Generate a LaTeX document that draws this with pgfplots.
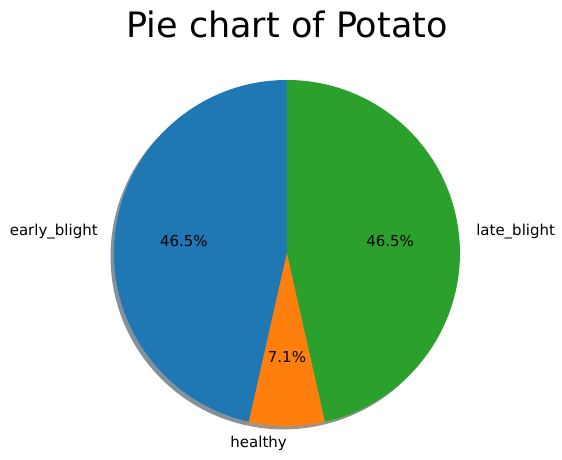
\documentclass[border=0pt]{standalone}
\usepackage{pgfplots}
\pgfplotsset{compat=1.18}
\usepackage{fontspec}
\setmainfont{DejaVu Sans}
\definecolor{tabblue}{HTML}{1F77B4}
\definecolor{taborange}{HTML}{FF7F0E}
\definecolor{tabgreen}{HTML}{2CA02C}
\begin{document}
\begin{tikzpicture}
% image counts per class
\pgfmathsetmacro{\ca}{1000}% early_blight
\pgfmathsetmacro{\cb}{152}% healthy
\pgfmathsetmacro{\cc}{1000}% late_blight
\pgfmathsetmacro{\tot}{\ca+\cb+\cc}
\pgfmathsetmacro{\fA}{\ca/\tot}
\pgfmathsetmacro{\fB}{\cb/\tot}
\pgfmathsetmacro{\fC}{\cc/\tot}
\pgfmathsetmacro{\aA}{90}
\pgfmathsetmacro{\aB}{90+360*\fA}
\pgfmathsetmacro{\aC}{\aB+360*\fB}
\pgfmathsetmacro{\aD}{450}
\pgfmathsetmacro{\mA}{(\aA+\aB)/2}
\pgfmathsetmacro{\mB}{(\aB+\aC)/2}
\pgfmathsetmacro{\mC}{(\aC+\aD)/2}
\pgfmathsetmacro{\pA}{100*\fA}
\pgfmathsetmacro{\pB}{100*\fB}
\pgfmathsetmacro{\pC}{100*\fC}
\pgfkeys{/pgf/number format/.cd, assume math mode=true, fixed, precision=1, fixed zerofill}
\begin{axis}[
  x=173bp, y=173bp,
  xmin=-1.659, xmax=1.590,
  ymin=-1.1965, ymax=1.4624,
  hide axis, clip=false,
  scale only axis,
]
\coordinate (bl) at (rel axis cs:0,0);
\coordinate (tr) at (rel axis cs:1,1);
% shadows
\fill[tabblue!30!black, opacity=0.5] (axis cs:-0.02,-0.02) -- ++(\aA:173bp) arc[start angle=\aA, end angle=\aB, radius=173bp] -- cycle;
\fill[taborange!30!black, opacity=0.5] (axis cs:-0.02,-0.02) -- ++(\aB:173bp) arc[start angle=\aB, end angle=\aC, radius=173bp] -- cycle;
\fill[tabgreen!30!black, opacity=0.5] (axis cs:-0.02,-0.02) -- ++(\aC:173bp) arc[start angle=\aC, end angle=\aD, radius=173bp] -- cycle;
% wedges
\fill[tabblue] (axis cs:0,0) -- ++(\aA:173bp) arc[start angle=\aA, end angle=\aB, radius=173bp] -- cycle;
\fill[taborange] (axis cs:0,0) -- ++(\aB:173bp) arc[start angle=\aB, end angle=\aC, radius=173bp] -- cycle;
\fill[tabgreen] (axis cs:0,0) -- ++(\aC:173bp) arc[start angle=\aC, end angle=\aD, radius=173bp] -- cycle;
% labels
\node[anchor=east, inner sep=0pt, font=\fontsize{15bp}{18bp}\selectfont] at (axis cs:{1.1*cos(\mA)},{1.1*sin(\mA)}) {early\_blight};
\node[anchor=east, inner sep=0pt, font=\fontsize{15bp}{18bp}\selectfont] at (axis cs:{1.1*cos(\mB)},{1.1*sin(\mB)}) {healthy};
\node[anchor=west, inner sep=0pt, font=\fontsize{15bp}{18bp}\selectfont] at (axis cs:{1.1*cos(\mC)},{1.1*sin(\mC)}) {late\_blight};
% percentages
\node[inner sep=0pt, font=\fontsize{15bp}{18bp}\selectfont] at (axis cs:{0.6*cos(\mA)},{0.6*sin(\mA)}) {\pgfmathprintnumber{\pA}\%};
\node[inner sep=0pt, font=\fontsize{15bp}{18bp}\selectfont] at (axis cs:{0.6*cos(\mB)},{0.6*sin(\mB)}) {\pgfmathprintnumber{\pB}\%};
\node[inner sep=0pt, font=\fontsize{15bp}{18bp}\selectfont] at (axis cs:{0.6*cos(\mC)},{0.6*sin(\mC)}) {\pgfmathprintnumber{\pC}\%};
% title
\node[anchor=base, inner sep=0pt, font=\fontsize{35bp}{42bp}\selectfont] at (axis cs:0,1.245) {Pie chart of Potato};
\end{axis}
\pgfresetboundingbox
\path (bl) rectangle (tr);
\end{tikzpicture}
\end{document}
